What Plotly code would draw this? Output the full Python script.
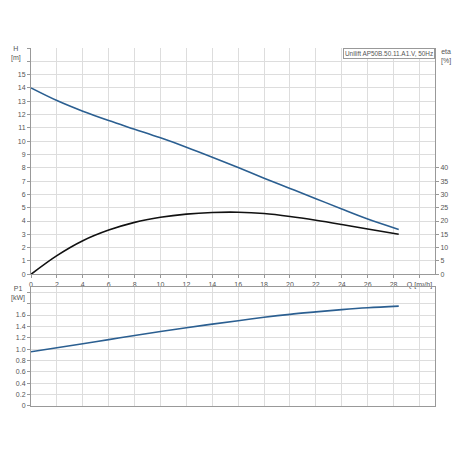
import plotly.graph_objects as go

# Data
Q = [0, 2, 4, 6, 8, 10, 12, 14, 16, 18, 20, 22, 24, 26, 28.4]
H = [14.0, 13.05, 12.25, 11.55, 10.9, 10.25, 9.55, 8.8, 8.02, 7.22, 6.45, 5.68, 4.9, 4.15, 3.37]
ETA = [0, 7.0, 12.6, 16.6, 19.5, 21.4, 22.6, 23.2, 23.3, 22.8, 21.7, 20.3, 18.7, 17.0, 15.0]
P1 = [0.955, 1.025, 1.095, 1.168, 1.24, 1.31, 1.375, 1.44, 1.5, 1.56, 1.612, 1.655, 1.695, 1.728, 1.756]

x_tickvals = list(range(0, 32, 2))
x_ticktext = [str(v) for v in range(0, 30, 2)] + ["Q [m³/h]"]
h_tickvals = list(range(0, 18))
h_ticktext = [str(v) if v <= 15 else "" for v in h_tickvals]
eta_tickvals = list(range(0, 45, 5))
p_tickvals = [0, 0.2, 0.4, 0.6, 0.8, 1.0, 1.2, 1.4, 1.6, 1.8, 2.0]
p_ticktext = ["0", "0.2", "0.4", "0.6", "0.8", "1.0", "1.2", "1.4", "1.6", "", ""]

TITLE = "Unilift AP50B.50.11.A1.V, 50Hz"
BLUE = "#2b5f91"
GRID = "#dddddd"
AXIS = "#999999"
TXT = "#555555"
FONT = "Liberation Sans, Arial, sans-serif"

fig = go.Figure()
fig.add_trace(go.Scatter(x=Q, y=H, mode="lines", line=dict(color=BLUE, width=1.6, shape="spline"),
                         xaxis="x", yaxis="y", showlegend=False))
fig.add_trace(go.Scatter(x=Q, y=ETA, mode="lines", line=dict(color="#111111", width=1.6, shape="spline"),
                         xaxis="x", yaxis="y3", showlegend=False))
fig.add_trace(go.Scatter(x=Q, y=P1, mode="lines", line=dict(color=BLUE, width=1.6, shape="spline"),
                         xaxis="x2", yaxis="y2", showlegend=False))

tickfont = dict(family=FONT, size=7, color=TXT)
top_dom = [0.368, 1.0]
bot_dom = [0.0, 0.3335]

fig.update_layout(
    width=460, height=460,
    margin=dict(l=23, r=33, t=40, b=62, autoexpand=False),
    paper_bgcolor="white", plot_bgcolor="white",
    font=dict(family=FONT, size=7, color=TXT),
    xaxis=dict(domain=[0, 1], range=[0, 31.2], anchor="y", tickvals=x_tickvals, ticktext=x_ticktext,
               showgrid=True, gridcolor=GRID, gridwidth=1, zeroline=False, automargin=False,
               showline=True, linecolor=AXIS, linewidth=1, ticks="outside", ticklen=3,
               tickcolor=AXIS, tickfont=tickfont),
    yaxis=dict(domain=top_dom, range=[0, 17], anchor="x", tickvals=h_tickvals, ticktext=h_ticktext,
               showgrid=True, gridcolor=GRID, gridwidth=1, zeroline=False, automargin=False,
               showline=True, linecolor=AXIS, linewidth=1, ticks="outside", ticklen=3,
               tickcolor=AXIS, tickfont=tickfont),
    yaxis3=dict(overlaying="y", side="right", anchor="x", range=[0, 85], tickvals=eta_tickvals,
                showgrid=False, zeroline=False, showline=True, linecolor=AXIS, linewidth=1,
                automargin=False, ticks="outside", ticklen=3, tickcolor=AXIS, tickfont=tickfont),
    xaxis2=dict(domain=[0, 1], range=[0, 31.2], anchor="y2", tickvals=x_tickvals, showticklabels=False,
                showgrid=True, gridcolor=GRID, gridwidth=1, zeroline=False, automargin=False,
                showline=True, linecolor=AXIS, linewidth=1, mirror=True),
    yaxis2=dict(domain=bot_dom, range=[0, 2.1], anchor="x2", tickvals=p_tickvals, ticktext=p_ticktext,
                showgrid=True, gridcolor=GRID, gridwidth=1, zeroline=False, automargin=False,
                showline=True, linecolor=AXIS, linewidth=1, mirror=True, ticks="outside", ticklen=3,
                tickcolor=AXIS, tickfont=tickfont),
)

ann = dict(showarrow=False, font=dict(family=FONT, size=7, color=TXT))
fig.add_annotation(text="H<br>[m]", xref="paper", yref="paper", x=-0.038, y=1.0,
                   xanchor="center", yanchor="bottom", align="center", yshift=-16, **ann)
fig.add_annotation(text="eta<br>[%]", xref="paper", yref="paper", x=1.026, y=1.0,
                   xanchor="center", yanchor="top", align="center", yshift=2, **ann)
fig.add_annotation(text="P1<br>[kW]", xref="paper", yref="paper", x=-0.033, y=bot_dom[1],
                   xanchor="center", yanchor="top", align="center", yshift=4, **ann)
fig.add_annotation(text=TITLE, xref="paper", yref="paper", x=1.0, y=1.0, xanchor="right", yanchor="top",
                   bgcolor="white", bordercolor=AXIS, borderwidth=1, borderpad=1,
                   showarrow=False, font=dict(family=FONT, size=6.4, color=TXT))

fig.write_html("out.html")
